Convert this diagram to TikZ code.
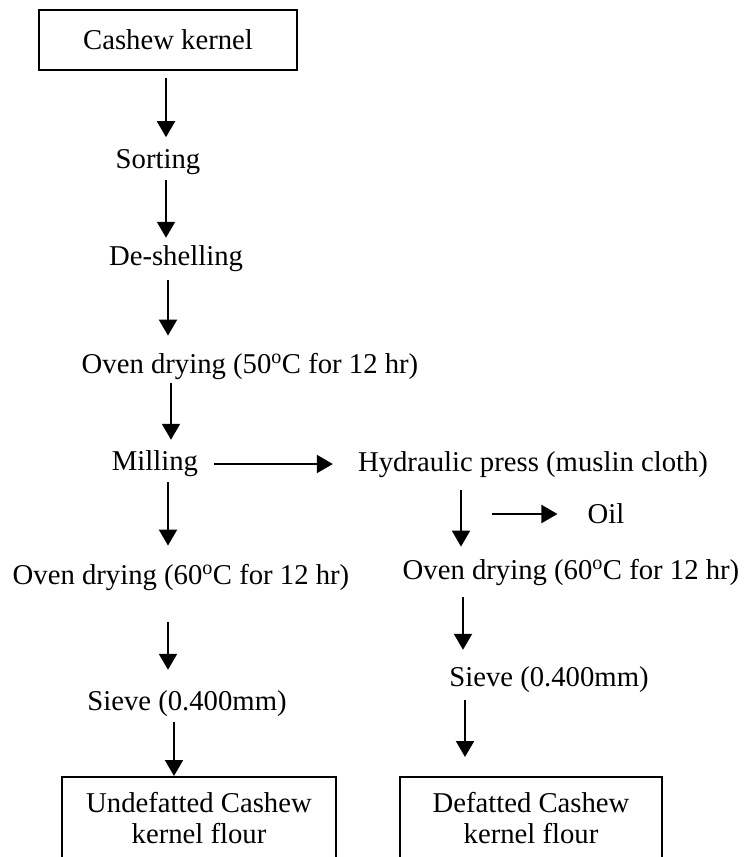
\documentclass[tikz,border=0pt]{standalone}
\usepackage{fontspec}
\setmainfont{Liberation Serif}
\usetikzlibrary{arrows.meta}
\begin{document}
\begin{tikzpicture}[x=1pt,y=-1pt,
  txt/.style={inner sep=0pt,font=\fontsize{28.7}{31}\selectfont},
  endbox/.style={txt,align=center,anchor=north,minimum height=82pt},
  arr/.style={line width=2pt,-{Triangle[width=18pt,length=16pt]}}]
\useasboundingbox (0,0) rectangle (755,857);
% nodes
\node[txt,draw,line width=1.6pt,minimum width=258pt,minimum height=60pt] (ck) at (168,40) {Cashew kernel};
\node[txt] (sort) at (158,162) {Sorting};
\node[txt] (desh) at (176,259) {De-shelling};
\node[txt] (oven1) at (250,366) {Oven drying (50\textsuperscript{o}C for 12 hr)};
\node[txt] (mill) at (155,464) {Milling};
\node[txt] (hyd) at (533,465) {Hydraulic press (muslin cloth)};
\node[txt] (oil) at (606,514) {Oil};
\node[txt] (ovenL) at (181,577) {Oven drying (60\textsuperscript{o}C for 12 hr)};
\node[txt] (ovenR) at (571,572) {Oven drying (60\textsuperscript{o}C for 12 hr)};
\node[txt] (sieveL) at (187,704) {Sieve (0.400mm)};
\node[txt] (sieveR) at (549,680) {Sieve (0.400mm)};
\node[endbox,minimum width=274pt] (boxL) at (199,777) {Undefatted Cashew\\kernel flour};
\node[endbox,minimum width=262pt] (boxR) at (531,777) {Defatted Cashew\\kernel flour};
\draw[line width=1.6pt] (boxL.south west) -- (boxL.north west) -- (boxL.north east) -- (boxL.south east);
\draw[line width=1.6pt] (boxR.south west) -- (boxR.north west) -- (boxR.north east) -- (boxR.south east);
% arrow columns
\coordinate (c1) at (166,0);
\coordinate (c3) at (168,0);
\coordinate (c4) at (171,0);
\coordinate (cL) at (168,0);
\coordinate (cL2) at (174,0);
\coordinate (cR) at (461,0);
\coordinate (cR2) at (463,0);
\coordinate (cR3) at (465,0);
\coordinate (oilsrc) at (492,514);
% connectors
\draw[arr,shorten <=7pt,shorten >=12pt] (ck.south -| c1) -- (sort.north -| c1);
\draw[arr,shorten <=5pt,shorten >=8pt] (sort.south -| c1) -- (desh.north -| c1);
\draw[arr,shorten <=8pt,shorten >=17pt] (desh.south -| c3) -- (oven1.north -| c3);
\draw[arr,shorten <=4pt,shorten >=11pt] (oven1.south -| c4) -- (mill.north -| c4);
\draw[arr,shorten <=16pt,shorten >=25pt] (mill.east) -- (mill.east -| hyd.west);
\draw[arr,shorten <=5pt,shorten >=18pt] (mill.south -| cL) -- (ovenL.north -| cL);
\draw[arr,shorten <=12pt,shorten >=12pt] (hyd.south -| cR) -- (ovenR.north -| cR);
\draw[arr,shorten >=30pt] (oilsrc) -- (oil.west);
\draw[arr,shorten <=32pt,shorten >=21pt] (ovenL.south -| cL) -- (sieveL.north -| cL);
\draw[arr,shorten <=12pt,shorten >=17pt] (ovenR.south -| cR2) -- (sieveR.north -| cR2);
\draw[arr,shorten <=5pt,shorten >=1pt] (sieveL.south -| cL2) -- (boxL.north -| cL2);
\draw[arr,shorten <=7pt,shorten >=20pt] (sieveR.south -| cR3) -- (boxR.north -| cR3);
\end{tikzpicture}
\end{document}
